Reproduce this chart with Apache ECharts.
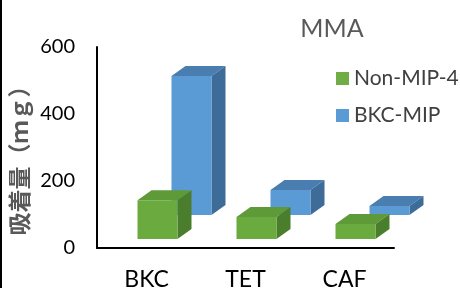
<!DOCTYPE html>
<html><head><meta charset="utf-8">
<script src="https://cdn.jsdelivr.net/npm/echarts@6/dist/echarts.min.js"></script>
<style>html,body{margin:0;padding:0;background:#fff}#c{width:460px;height:288px}</style>
</head><body><div id="c"></div>
<script>
const categories = ['BKC', 'TET', 'CAF'];
const seriesNames = ['Non-MIP-4', 'BKC-MIP'];
const nonMip = [116, 66, 45];
const bkcMip = [415, 75, 27];
const yTicks = [0, 200, 400, 600];

const chart = echarts.init(document.getElementById('c'));

function cube(params, api, opt) {
  const cat = api.value(0), val = api.value(1);
  const top = api.coord([cat, val]);
  const base = api.coord([cat, 0]);
  const cx = top[0] + opt.dx, w = opt.w, depthX = 14, depthY = 10;
  const x0 = cx - w / 2, x1 = cx + w / 2;
  const yb = base[1] - opt.dy, yt = top[1] - opt.dy;
  return {
    type: 'group',
    children: [
      {type: 'polygon', shape: {points: [[x0, yt], [x1, yt], [x1 + depthX, yt - depthY], [x0 + depthX, yt - depthY]]}, style: {fill: opt.topC}},
      {type: 'polygon', shape: {points: [[x1, yt], [x1 + depthX, yt - depthY], [x1 + depthX, yb - depthY], [x1, yb]]}, style: {fill: opt.sideC}},
      {type: 'rect', shape: {x: x0, y: yt, width: w, height: yb - yt}, style: {fill: opt.front}}
    ]
  };
}

chart.setOption({
  animation: false,
  title: {text: 'MMA', left: 327, top: 11, textAlign: 'center',
    textStyle: {fontFamily: 'Lato', fontSize: 25, fontWeight: 'normal', color: '#595959'}},
  legend: {orient: 'vertical', left: 331, top: 63, itemWidth: 13, itemHeight: 13, itemGap: 16, itemTextGap: 6,
    icon: 'rect', data: seriesNames,
    textStyle: {fontFamily: 'Lato', fontSize: 21, color: '#404040'}},
  grid: {left: 97, right: 66, top: 47, bottom: 40, containLabel: false, outerBoundsMode: 'none'},
  xAxis: {type: 'category', data: categories,
    axisLine: {lineStyle: {color: '#000', width: 2}}, axisTick: {show: false},
    axisLabel: {fontFamily: 'Lato', fontSize: 23, color: '#000', margin: 20}},
  yAxis: {type: 'value', min: yTicks[0], max: yTicks[yTicks.length - 1], interval: 200,
    axisLine: {show: true, lineStyle: {color: '#000', width: 2}}, axisTick: {show: false},
    splitLine: {show: false},
    axisLabel: {fontFamily: 'Lato', fontSize: 20, color: '#000', margin: 22}},
  graphic: [
    {type: 'rect', shape: {x: 0, y: 0, width: 2, height: 288}, style: {fill: '#000'}},
    {type: 'text', x: 19, y: 155, rotation: Math.PI / 2,
      style: {text: '吸着量（ｍｇ）', fontFamily: 'Noto Sans CJK JP', fontSize: 23, fontWeight: 'bold',
        fill: '#595959', textAlign: 'center', textVerticalAlign: 'middle'}}
  ],
  series: [
    {name: seriesNames[1], type: 'custom', itemStyle: {color: '#5B9BD5'},
      data: bkcMip.map((v, i) => [i, v]),
      renderItem: (p, api) => cube(p, api, {dx: 45, dy: 33, w: 40, front: '#5B9BD5', topC: '#4A7DB0', sideC: '#3E6C98'})},
    {name: seriesNames[0], type: 'custom', itemStyle: {color: '#70AD47'},
      data: nonMip.map((v, i) => [i, v]),
      renderItem: (p, api) => cube(p, api, {dx: 11, dy: 9, w: 40, front: '#6AAA3F', topC: '#5E9A38', sideC: '#4B7E2C'})}
  ]
});
</script></body></html>
